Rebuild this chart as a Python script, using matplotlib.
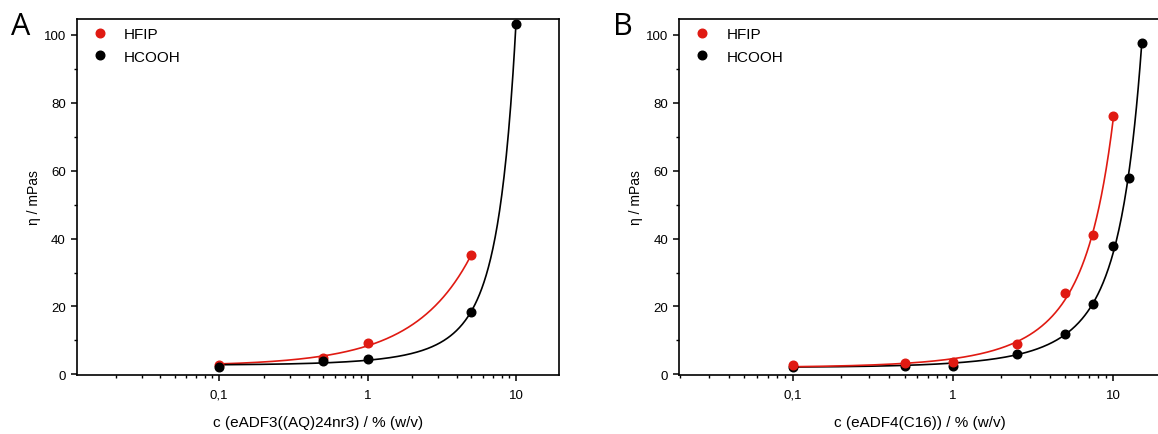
import numpy as np
import matplotlib

matplotlib.use("Agg")
import matplotlib.pyplot as plt
from matplotlib.ticker import FixedLocator, LogLocator, MultipleLocator, NullFormatter

plt.rcParams["font.family"] = ["Liberation Sans", "DejaVu Sans"]

RED = "#e01a12"
BLACK = "#000000"

# panel A: eADF3((AQ)24nr3)
a_hfip_c = [0.1, 0.5, 1, 5]
a_hfip_eta = [2.8, 4.9, 9.3, 35.1]
a_hcooh_c = [0.1, 0.5, 1, 5, 10]
a_hcooh_eta = [2.2, 3.8, 4.4, 18.5, 103.2]

# panel B: eADF4(C16)
b_hfip_c = [0.1, 0.5, 1, 2.5, 5, 7.5, 10]
b_hfip_eta = [2.8, 3.4, 3.6, 9.0, 24.0, 41.0, 76.0]
b_hcooh_c = [0.1, 0.5, 1, 2.5, 5, 7.5, 10, 12.5, 15]
b_hcooh_eta = [2.3, 2.6, 2.6, 6.0, 12.0, 20.8, 37.8, 57.8, 97.7]

x_ticks = [0.1, 1, 10]
x_tick_labels = ["0,1", "1", "10"]
y_ticks = [0, 20, 40, 60, 80, 100]


def exp_fit(x, y):
    # y = y0 + A*exp(x/t), scan t and solve y0, A by least squares
    x = np.asarray(x, float)
    y = np.asarray(y, float)
    best = None
    for t in np.linspace(0.5, 20, 4000):
        M = np.column_stack([np.ones_like(x), np.exp(x / t)])
        coef, *_ = np.linalg.lstsq(M, y, rcond=None)
        err = np.sum((M @ coef - y) ** 2)
        if best is None or err < best[0]:
            best = (err, t, coef)
    _, t, (y0, A) = best
    xs = np.logspace(np.log10(x.min()), np.log10(x.max()), 400)
    return xs, y0 + A * np.exp(xs / t)


def draw_panel(ax, series, xlim, xlabel, letter):
    handles = {}
    for c, eta, color, label in series:
        xs, ys = exp_fit(c, eta)
        ax.plot(xs, ys, color=color, lw=1.2, zorder=2)
        (h,) = ax.plot(c, eta, "o", color=color, ms=6.2, zorder=3, linestyle="none")
        handles[label] = h

    ax.set_xscale("log")
    ax.set_xlim(*xlim)
    ax.set_ylim(-0.2, 104.7)
    ax.xaxis.set_major_locator(FixedLocator(x_ticks))
    ax.set_xticklabels(x_tick_labels)
    ax.xaxis.set_minor_locator(LogLocator(base=10, subs=np.arange(2, 10)))
    ax.xaxis.set_minor_formatter(NullFormatter())
    ax.yaxis.set_major_locator(FixedLocator(y_ticks))
    ax.yaxis.set_minor_locator(MultipleLocator(10))

    for s in ax.spines.values():
        s.set_linewidth(1.2)
    ax.tick_params(which="major", direction="out", length=4.5, width=1.1, labelsize=9.5)
    ax.tick_params(axis="x", which="major", pad=5.5)
    ax.tick_params(which="minor", direction="out", length=2.5, width=1.0)

    ax.set_xlabel(xlabel, fontsize=11, labelpad=10)
    ax.set_ylabel("η / mPas", fontsize=10, labelpad=2)

    ax.legend([handles["HFIP"], handles["HCOOH"]], ["HFIP", "HCOOH"],
              loc="upper left", frameon=False, fontsize=11, handlelength=0.9,
              handletextpad=1.15, labelspacing=0.55, borderaxespad=0.0,
              borderpad=0.0, bbox_to_anchor=(0.033, 0.977))
    ax.text(-0.137, 0.98, letter, transform=ax.transAxes, fontsize=22,
            family=["Open Sans", "DejaVu Sans"], va="center", ha="left")


fig = plt.figure(figsize=(11.58, 4.35), dpi=100)
ax_a = fig.add_axes([0.0665, 0.1356, 0.4162, 0.8184])
ax_b = fig.add_axes([0.5864, 0.1356, 0.4162, 0.8184])

draw_panel(ax_a,
           [(a_hfip_c, a_hfip_eta, RED, "HFIP"),
            (a_hcooh_c, a_hcooh_eta, BLACK, "HCOOH")],
           (0.011, 19.5), "c (eADF3((AQ)24nr3) / % (w/v)", "A")
draw_panel(ax_b,
           [(b_hcooh_c, b_hcooh_eta, BLACK, "HCOOH"),
            (b_hfip_c, b_hfip_eta, RED, "HFIP")],
           (0.0196, 19.8), "c (eADF4(C16)) / % (w/v)", "B")

fig.savefig("out.png", dpi=100)
